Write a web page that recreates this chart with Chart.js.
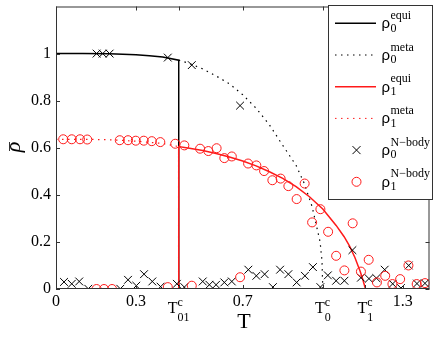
<!DOCTYPE html>
<html>
<head>
<meta charset="utf-8">
<script src="https://cdn.jsdelivr.net/npm/chart.js@4.4.1/dist/chart.umd.min.js"></script>
<style>
  html, body { margin: 0; padding: 0; background: #fff; }
</style>
</head>
<body>
<canvas id="grafico" width="436" height="349"></canvas>
<script>
// Curvas teóricas
const tEqui0 = [0, 0.1, 0.2, 0.25, 0.3, 0.35, 0.4, 0.46, 0.46, 1.4];
const rhoEqui0 = [1, 1, 0.999, 0.997, 0.995, 0.991, 0.985, 0.972, 0, 0];

const tMeta0 = [0.46, 0.5, 0.55, 0.6, 0.65, 0.7, 0.75, 0.8, 0.85, 0.9, 0.93, 0.96, 0.98, 0.99, 0.997, 1.0];
const rhoMeta0 = [0.972, 0.958, 0.935, 0.905, 0.872, 0.825, 0.768, 0.697, 0.61, 0.525, 0.45, 0.35, 0.25, 0.2, 0.12, 0];

const tEqui1 = [0, 0.46, 0.46, 0.5, 0.55, 0.6, 0.65, 0.7, 0.75, 0.8, 0.85, 0.9, 0.95, 1.0, 1.05, 1.08, 1.1, 1.12, 1.14, 1.15, 1.16, 1.4];
const rhoEqui1 = [0, 0, 0.605, 0.598, 0.588, 0.576, 0.561, 0.544, 0.523, 0.498, 0.47, 0.435, 0.392, 0.34, 0.27, 0.222, 0.183, 0.135, 0.075, 0.04, 0, 0];

const tMeta1 = [0, 0.1, 0.2, 0.3, 0.4, 0.46];
const rhoMeta1 = [0.636, 0.636, 0.634, 0.628, 0.618, 0.605];
const tMeta1b = [0.46, 1.4];
const rhoMeta1b = [0, 0];

// Simulación N-body
const tBody0 = [0.03, 0.059, 0.087, 0.121, 0.152, 0.175, 0.201, 0.241, 0.27, 0.301, 0.33, 0.361, 0.392, 0.419, 0.453, 0.481, 0.509, 0.55, 0.575, 0.6, 0.631, 0.659, 0.69, 0.721, 0.751, 0.782, 0.813, 0.84, 0.871, 0.902, 0.933, 0.963, 0.991, 1.019, 1.05, 1.081, 1.111, 1.143, 1.173, 1.201, 1.232, 1.262, 1.293, 1.322, 1.353, 1.383];
const rhoBody0 = [0.03, 0.022, 0.032, 0.001, 1.0, 1.0, 1.0, 0.001, 0.039, 0.014, 0.063, 0.032, 0.01, 0.983, 0.022, 0.008, 0.951, 0.032, 0.018, 0.018, 0.028, 0.032, 0.779, 0.082, 0.056, 0.063, 0.008, 0.082, 0.063, 0.028, 0.056, 0.093, 0.008, 0.058, 0.035, 0.035, 0.165, 0.048, 0.044, 0.046, 0.082, 0.022, 0.004, 0.1, 0.023, 0.024];

const tBody1 = [0.027, 0.059, 0.09, 0.117, 0.152, 0.18, 0.21, 0.239, 0.27, 0.299, 0.329, 0.359, 0.391, 0.419, 0.447, 0.481, 0.509, 0.54, 0.571, 0.602, 0.631, 0.659, 0.69, 0.72, 0.751, 0.78, 0.811, 0.842, 0.871, 0.902, 0.932, 0.96, 0.991, 1.02, 1.05, 1.081, 1.112, 1.143, 1.172, 1.203, 1.234, 1.261, 1.29, 1.321, 1.352, 1.383];
const rhoBody1 = [0.636, 0.636, 0.636, 0.635, 0.0, 0.0, 0.0, 0.632, 0.632, 0.63, 0.63, 0.628, 0.624, 0.008, 0.617, 0.61, 0.014, 0.596, 0.586, 0.598, 0.556, 0.563, 0.05, 0.533, 0.525, 0.501, 0.462, 0.469, 0.437, 0.382, 0.448, 0.283, 0.339, 0.243, 0.141, 0.079, 0.279, 0.074, 0.124, 0.028, 0.056, 0.021, 0.042, 0.1, 0.021, 0.025];

// Ejes
const xTickVals = [0, 0.3, 0.46, 0.7, 1.0, 1.16, 1.3];
const xTickText = ['0', '0.3', '', '0.7', '', '', '1.3'];
const tcTicks = [0.46, 1.0, 1.16];
const tcSubs = ['01', '0', '1'];
const yTickVals = [0, 0.2, 0.4, 0.6, 0.8, 1];

// Leyenda
const legendSup = ['equi', 'meta', 'equi', 'meta', 'N\u2212body', 'N\u2212body'];
const legendSub = ['0', '0', '1', '1', '0', '1'];

const ROJO = '#ff1a1a';
const PUNTEADO = [1.5, 4.5];
const serif = '"Liberation Serif", "Times New Roman", serif';
const pts = (xs, ys) => xs.map((x, i) => ({ x, y: ys[i] }));

function linea(ctx, x1, y1, x2, y2) {
  ctx.beginPath();
  ctx.moveTo(x1, y1);
  ctx.lineTo(x2, y2);
  ctx.stroke();
}

const decor = {
  id: 'decor',
  afterDraw(chart) {
    const { ctx, chartArea: a, scales: { x, y } } = chart;
    ctx.save();

    // marco y ticks hacia adentro
    ctx.strokeStyle = '#333';
    ctx.lineWidth = 1;
    ctx.strokeRect(a.left + 0.5, a.top + 0.5, a.right - a.left - 1, a.bottom - a.top - 1);
    xTickVals.forEach(v => {
      const px = Math.round(x.getPixelForValue(v)) + 0.5;
      linea(ctx, px, a.bottom, px, a.bottom - 4);
      linea(ctx, px, a.top, px, a.top + 4);
    });
    yTickVals.forEach(v => {
      const py = Math.round(y.getPixelForValue(v)) + 0.5;
      linea(ctx, a.left, py, a.left + 4, py);
      linea(ctx, a.right, py, a.right - 4, py);
    });

    // etiquetas T^c_sub
    ctx.fillStyle = '#000';
    ctx.textBaseline = 'alphabetic';
    ctx.textAlign = 'left';
    tcTicks.forEach((v, i) => {
      ctx.font = '16px ' + serif;
      const wT = ctx.measureText('T').width;
      ctx.font = '12px ' + serif;
      const wSub = ctx.measureText(tcSubs[i]).width;
      const wSup = ctx.measureText('c').width;
      const left = x.getPixelForValue(v) - (wT + Math.max(wSub, wSup)) / 2;
      ctx.font = '16px ' + serif;
      ctx.fillText('T', left, 313);
      ctx.font = '12px ' + serif;
      ctx.fillText('c', left + wT, 306);
      ctx.fillText(tcSubs[i], left + wT, 321);
    });

    // título eje x
    ctx.font = '22px ' + serif;
    ctx.textAlign = 'center';
    ctx.fillText('T', 244, 328);

    // título eje y (rho con barra, rotado)
    ctx.save();
    ctx.translate(20, 147);
    ctx.rotate(-Math.PI / 2);
    ctx.font = 'italic 22px ' + serif;
    ctx.textAlign = 'center';
    ctx.fillText('ρ', 0, 0);
    ctx.restore();
    ctx.lineWidth = 1;
    linea(ctx, 9.5, 142, 9.5, 151);

    // leyenda
    const lx = 328, ly = 5, lw = 104, lh = 194;
    ctx.fillStyle = '#fff';
    ctx.fillRect(lx, ly, lw, lh);
    ctx.strokeStyle = '#333';
    ctx.strokeRect(lx + 0.5, ly + 0.5, lw, lh);
    legendSup.forEach((sup, i) => {
      const cy = 23.3 + i * 31.7;
      ctx.strokeStyle = i === 0 || i === 1 || i === 4 ? '#000' : ROJO;
      if (i < 4) {
        ctx.lineWidth = i % 2 === 0 ? 1.5 : 1;
        ctx.setLineDash(i % 2 === 0 ? [] : PUNTEADO);
        linea(ctx, 335, cy, 376, cy);
        ctx.setLineDash([]);
      } else if (i === 4) {
        ctx.lineWidth = 1;
        linea(ctx, 352.5, cy - 4, 360.5, cy + 4);
        linea(ctx, 352.5, cy + 4, 360.5, cy - 4);
      } else {
        ctx.lineWidth = 1;
        ctx.beginPath();
        ctx.arc(356.5, cy, 4.5, 0, Math.PI * 2);
        ctx.stroke();
      }
      ctx.fillStyle = '#000';
      ctx.textAlign = 'left';
      ctx.font = '15px "Liberation Sans", Arial, sans-serif';
      ctx.fillText('ρ', 381.5, cy + 5);
      ctx.font = '12px ' + serif;
      ctx.fillText(sup, 390.5, cy - 4.5);
      ctx.fillText(legendSub[i], 390.5, cy + 8.3);
    });

    ctx.restore();
  }
};

const ctx = document.getElementById('grafico').getContext('2d');
new Chart(ctx, {
  type: 'scatter',
  data: {
    datasets: [
      { data: pts(tEqui0, rhoEqui0), showLine: true, borderColor: '#000', borderWidth: 1.5, pointRadius: 0, order: 6 },
      { data: pts(tMeta0, rhoMeta0), showLine: true, borderColor: '#000', borderWidth: 1.2, borderDash: PUNTEADO, pointRadius: 0, order: 5 },
      { data: pts(tMeta1, rhoMeta1).concat([{ x: 0.46, y: null }], pts(tMeta1b, rhoMeta1b)), showLine: true, spanGaps: false, borderColor: ROJO, borderWidth: 1.2, borderDash: PUNTEADO, pointRadius: 0, order: 4 },
      { data: pts(tEqui1, rhoEqui1), showLine: true, borderColor: ROJO, borderWidth: 1.5, pointRadius: 0, order: 3 },
      { data: pts(tBody0, rhoBody0), pointStyle: 'crossRot', pointRadius: 5.5, borderColor: '#000', borderWidth: 1, order: 2 },
      { data: pts(tBody1, rhoBody1), pointStyle: 'circle', pointRadius: 4.5, borderColor: ROJO, backgroundColor: 'rgba(0,0,0,0)', borderWidth: 1, order: 1 }
    ]
  },
  options: {
    responsive: false,
    animation: false,
    devicePixelRatio: 1,
    layout: { padding: { top: 5, right: 4, left: 0, bottom: 0 } },
    plugins: { legend: { display: false }, tooltip: { enabled: false } },
    scales: {
      x: {
        type: 'linear', min: 0, max: 1.4,
        grid: { display: false, drawTicks: false },
        border: { display: false },
        afterBuildTicks: s => { s.ticks = xTickVals.map(v => ({ value: v })); },
        afterFit: s => { s.height = 60; s.paddingLeft = 0; s.paddingRight = 0; },
        ticks: {
          autoSkip: false, maxRotation: 0, padding: 3, color: '#000',
          font: { family: serif, size: 16 },
          callback: (v, i) => xTickText[i]
        }
      },
      y: {
        type: 'linear', min: 0, max: 1.2,
        grid: { display: false, drawTicks: false },
        border: { display: false },
        afterBuildTicks: s => { s.ticks = yTickVals.map(v => ({ value: v })); },
        afterFit: s => { s.width = 56; s.paddingTop = 0; s.paddingBottom = 0; },
        ticks: {
          autoSkip: false, padding: 5, color: '#000',
          font: { family: serif, size: 16 },
          callback: v => String(+v.toFixed(1))
        }
      }
    }
  },
  plugins: [decor]
});
</script>
</body>
</html>
